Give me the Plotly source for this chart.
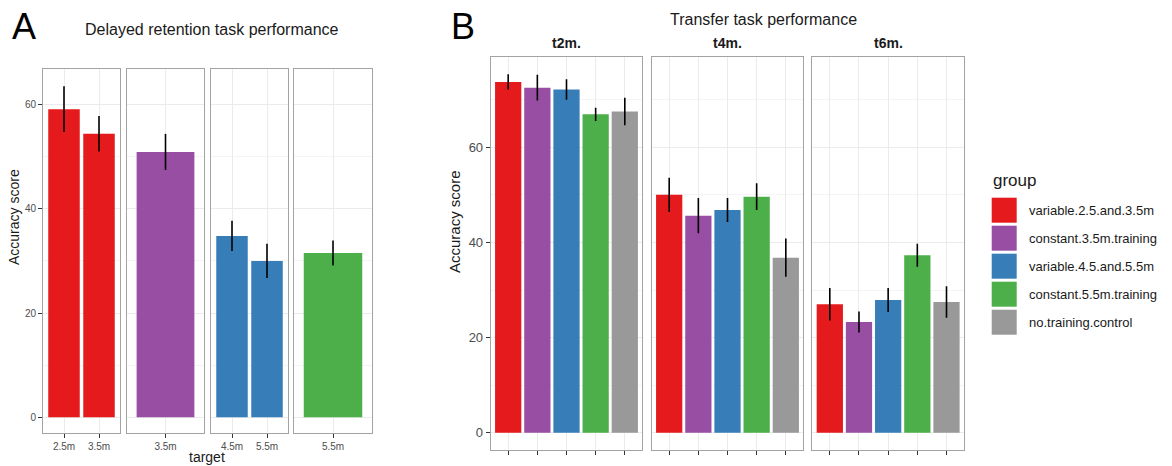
import plotly.graph_objects as go

W, H = 1172, 466

# ---------------- data ----------------
groups = ["variable.2.5.and.3.5m", "constant.3.5m.training", "variable.4.5.and.5.5m",
          "constant.5.5m.training", "no.training.control"]
group_colors = ["#E41A1C", "#984EA3", "#377EB8", "#4DAF4A", "#999999"]

# Panel A: delayed retention (faceted by training group)
ret_panel = [0, 0, 1, 2, 2, 3]
ret_target = ["2.5m", "3.5m", "3.5m", "4.5m", "5.5m", "5.5m"]
ret_group = [0, 0, 1, 2, 2, 3]
ret_mean = [59.1, 54.4, 50.9, 34.8, 30.0, 31.5]
ret_err = [4.4, 3.4, 3.45, 2.9, 3.3, 2.4]

# Panel B: transfer (faceted by transfer distance)
transfer_facets = ["t2m.", "t4m.", "t6m."]
t2m_mean = [73.7, 72.5, 72.1, 66.9, 67.5]
t2m_err = [1.6, 2.7, 2.15, 1.4, 2.9]
t4m_mean = [50.0, 45.6, 46.8, 49.6, 36.8]
t4m_err = [3.6, 3.7, 2.5, 2.8, 4.0]
t6m_mean = [27.0, 23.3, 27.9, 37.3, 27.5]
t6m_err = [3.4, 2.2, 2.5, 2.4, 3.3]

y_ticks = [0, 20, 40, 60]

# ---------------- layout helpers ----------------
def px(x):
    return x / W

def py(y):
    return 1 - y / H

FONT = "Liberation Sans, Arial, Helvetica, sans-serif"
BORDER = "#a3a3a3"
GRID = "#ebebeb"
MINOR = "#f4f4f4"
TICKC = "#333333"
TXT = "#4d4d4d"

A_x = [(43, 120), (127, 204), (211, 288), (294, 372)]
A_y = (69, 433)
A_range = [-3.0, 66.8]
B_x = [(490.7, 642.3), (651.7, 803.3), (812.3, 964)]
B_y = (56.7, 450)
B_range = [-3.6, 79.0]

fig = go.Figure()
layout = {}
ax = 0

def add_axes(xdom, ydom, yrange, ncat, first, ylabsize, xlabels, xlabsize):
    global ax
    ax += 1
    xn = "xaxis" if ax == 1 else f"xaxis{ax}"
    yn = "yaxis" if ax == 1 else f"yaxis{ax}"
    xr = "x" if ax == 1 else f"x{ax}"
    yr = "y" if ax == 1 else f"y{ax}"
    layout[xn] = dict(
        domain=[px(xdom[0]), px(xdom[1])], anchor=yr, type="category",
        range=[-0.6, ncat - 0.4], showgrid=True, gridcolor=GRID, gridwidth=1,
        showline=True, mirror=True, linecolor=BORDER, linewidth=1,
        ticks="outside", ticklen=4, tickcolor=TICKC, tickwidth=1,
        showticklabels=xlabels, tickfont=dict(family=FONT, size=xlabsize, color=TXT),
        zeroline=False, fixedrange=True,
    )
    layout[yn] = dict(
        domain=[py(ydom[1]), py(ydom[0])], anchor=xr, range=yrange,
        tickmode="array", tickvals=y_ticks,
        showgrid=True, gridcolor=GRID, gridwidth=1,
        minor=dict(tickmode="linear", tick0=10, dtick=20, showgrid=True,
                   gridcolor=MINOR, gridwidth=1, ticks=""),
        showline=True, mirror=True, linecolor=BORDER, linewidth=1,
        ticks="outside" if first else "", ticklen=4, tickcolor=TICKC, tickwidth=1,
        showticklabels=first, tickfont=dict(family=FONT, size=ylabsize, color=TXT),
        zeroline=False, fixedrange=True,
    )
    return xr, yr

ERR = dict(type="data", thickness=1.6, width=0, color="black")

# Panel A
for p in range(4):
    idx = [i for i in range(len(ret_panel)) if ret_panel[i] == p]
    xr, yr = add_axes(A_x[p], A_y, A_range, len(idx), p == 0, 10, True, 10)
    fig.add_trace(go.Bar(
        x=[ret_target[i] for i in idx], y=[ret_mean[i] for i in idx],
        marker=dict(color=[group_colors[ret_group[i]] for i in idx], line=dict(width=0)),
        width=0.9, error_y=dict(array=[ret_err[i] for i in idx], **ERR),
        xaxis=xr, yaxis=yr, showlegend=False, hoverinfo="x+y",
    ))

# Panel B
for f, (m, e) in enumerate([(t2m_mean, t2m_err), (t4m_mean, t4m_err), (t6m_mean, t6m_err)]):
    xr, yr = add_axes(B_x[f], B_y, B_range, len(groups), f == 0, 13, False, 10)
    fig.add_trace(go.Bar(
        x=groups, y=m,
        marker=dict(color=group_colors, line=dict(width=0)),
        width=0.9, error_y=dict(array=e, **ERR),
        xaxis=xr, yaxis=yr, showlegend=False, hoverinfo="x+y",
    ))

annotations = []

def text(x, y, s, size, color="#1a1a1a", bold=False, angle=0, xanchor="center"):
    annotations.append(dict(
        x=px(x), y=py(y), xref="paper", yref="paper", text=f"<b>{s}</b>" if bold else s,
        showarrow=False, textangle=angle, xanchor=xanchor, yanchor="middle",
        font=dict(family=FONT, size=size, color=color),
    ))

text(24, 26, "A", 36, color="black")
text(463, 27, "B", 36, color="black")
text(212, 30, "Delayed retention task performance", 16)
text(763, 20, "Transfer task performance", 16)
for f, name in enumerate(transfer_facets):
    text((B_x[f][0] + B_x[f][1]) / 2, 43, name, 14, bold=True)
text(14, 217, "Accuracy score", 14, angle=-90)
text(454, 222, "Accuracy score", 15, angle=-90)
text(207, 457, "target", 14)

# Legend (manual, to match ggplot key sizes)
text(991, 180, "group", 17, xanchor="left")
shapes = []
for k, g in enumerate(groups):
    top = 197.7 + 28 * k
    shapes.append(dict(type="rect", xref="paper", yref="paper",
                       x0=px(991.7), x1=px(1016.7), y0=py(top + 25), y1=py(top),
                       fillcolor=group_colors[k], line=dict(width=0)))
    text(1026.7, top + 12.5, g, 13, xanchor="left")

fig.update_layout(
    width=W, height=H, margin=dict(l=0, r=0, t=0, b=0),
    paper_bgcolor="white", plot_bgcolor="white",
    annotations=annotations, shapes=shapes, showlegend=False,
    font=dict(family=FONT),
    **layout,
)

fig.write_html("out.html")
